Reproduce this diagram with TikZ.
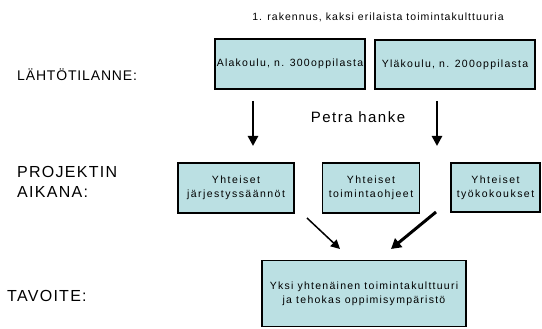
\documentclass[tikz,border=0pt]{standalone}
\usepackage{fontspec}
\setmainfont{Liberation Sans}
\newfontfamily\spacedA[LetterSpace=6]{Liberation Sans}
\newfontfamily\spacedB[LetterSpace=8]{Liberation Sans}
\newfontfamily\spacedC[LetterSpace=10]{Liberation Sans}
\newfontfamily\spacedD[LetterSpace=12]{Liberation Sans}
\newfontfamily\spacedE[LetterSpace=14]{Liberation Sans}
\usetikzlibrary{arrows.meta}
\definecolor{boxfill}{RGB}{187,224,227}
\tikzset{
  box/.style={draw=black, line width=1.6pt, fill=boxfill, rectangle, inner sep=0pt, align=center,
    font=\spacedD\fontsize{10.5}{14}\selectfont},
  midbox/.style={box, font=\spacedE\fontsize{10.5}{14}\selectfont},
  lbl/.style={inner sep=0pt, anchor=west, align=left},
  bigarrow/.style={line width=2.6pt, -{Triangle[length=10pt,width=10pt]}},
  thinarrow/.style={line width=1.5pt, -{Triangle[length=9pt,width=9pt]}},
  thickarrow/.style={line width=3pt, -{Triangle[length=10pt,width=11pt]}}
}
\begin{document}
\begin{tikzpicture}[x=1pt,y=-1pt]
\useasboundingbox (0,0) rectangle (542,329);
% top
\node[inner sep=0pt, font=\spacedC\fontsize{10.5}{13}\selectfont] (title) at (378,17) {1. rakennus, kaksi erilaista toimintakulttuuria};
\node[box, minimum width=150pt, minimum height=50pt] (ala) at (290,64) {Alakoulu, n. 300oppilasta};
\node[box, minimum width=160pt, minimum height=49pt] (yla) at (455,64.5) {Yläkoulu, n. 200oppilasta};
\node[lbl, font=\spacedA\fontsize{14}{20}\selectfont] (l1) at (17,75) {LÄHTÖTILANNE:};
% arrows down
\coordinate (d1s) at (253,101);
\coordinate (d1e) at (253,146);
\coordinate (d2s) at (437,101);
\coordinate (d2e) at (437,146);
\draw[bigarrow] (d1s) -- (d1e);
\draw[bigarrow] (d2s) -- (d2e);
\node[inner sep=0pt, font=\spacedC\fontsize{15}{17}\selectfont] (petra) at (358,117) {Petra hanke};
% middle
\node[lbl, font=\spacedB\fontsize{16}{20}\selectfont] (l2) at (17,182) {PROJEKTIN\\AIKANA:};
\node[midbox, minimum width=116pt, minimum height=50pt] (c1) at (236,188) {Yhteiset\\järjestyssäännöt};
\node[midbox, minimum width=97pt, minimum height=50pt] (c2) at (371,188) {Yhteiset\\toimintaohjeet};
\node[midbox, minimum width=89pt, minimum height=49pt] (c3) at (495.5,187.5) {Yhteiset\\työkokoukset};
% diagonal arrows
\coordinate (a1s) at (307,218);
\coordinate (a1e) at (340,249);
\coordinate (a2s) at (436,212);
\coordinate (a2e) at (391,249);
\draw[thinarrow] (a1s) -- (a1e);
\draw[thickarrow] (a2s) -- (a2e);
% bottom
\node[lbl, font=\spacedB\fontsize{16}{18}\selectfont] (l3) at (7,296) {TAVOITE:};
\node[box, minimum width=204pt, minimum height=66pt] (goal) at (364,293.5) {Yksi yhtenäinen toimintakulttuuri\\ja tehokas oppimisympäristö};
\end{tikzpicture}
\end{document}
